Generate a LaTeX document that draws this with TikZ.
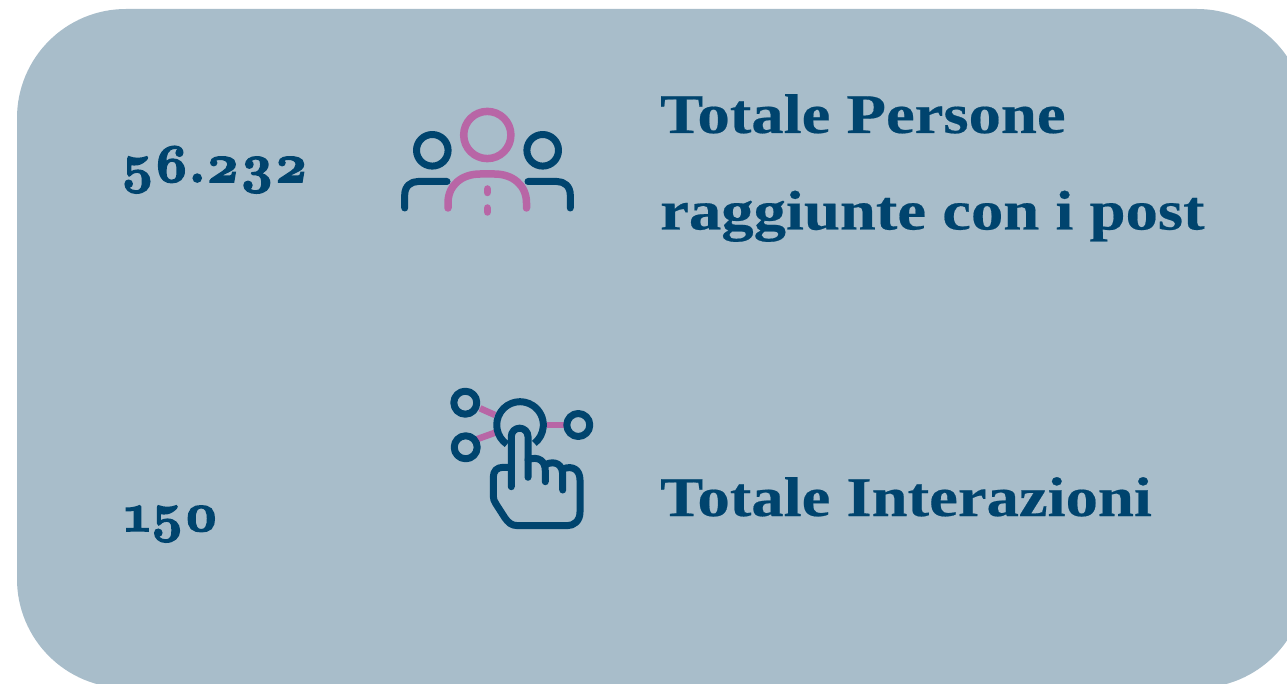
\documentclass[tikz,border=0pt]{standalone}
\usepackage{fontspec}
\newfontfamily\labelfont[FakeStretch=1.155,FakeBold=0.35]{Liberation Serif Bold}
\newfontfamily\numfont[Numbers=OldStyle,FakeBold=3]{Latin Modern Roman}
\definecolor{panel}{HTML}{A8BDCA}
\definecolor{navy}{HTML}{00446E}
\definecolor{orchid}{HTML}{B866A6}
\tikzset{
  txt/.style={anchor=base west,inner sep=0pt,text=navy,font=\labelfont\fontsize{56}{60}\selectfont},
  num/.style={anchor=base west,inner sep=0pt,text=navy,font=\numfont\bfseries\fontsize{54.5}{58}\selectfont},
  navyline/.style={draw=navy,line width=7pt,line cap=round,line join=round},
  pinkline/.style={draw=orchid,line width=7.5pt,line cap=round,line join=round},
  link/.style={draw=orchid,line width=6.5pt,line cap=butt}
}
\begin{document}
\begin{tikzpicture}[x=1pt,y=-1pt]
\useasboundingbox (0,0) rectangle (1287,684);
\fill[white] (0,0) rectangle (1287,684);
\begin{scope}
\clip (0,0) rectangle (1287,684);
\fill[panel,rounded corners=109pt] (17,9) rectangle (1306,688);
\end{scope}
% texts
\node[num] (n1) at (120.5,182) {56.232};
\node[num] (n2) at (124,531) {150};
\node[txt] (t1) at (660,133) {Totale Persone};
\node[txt] (t2) at (660,229.5) {raggiunte con i post};
\node[txt] (t3) at (660,516) {Totale Interazioni};
% people icon
\draw[navyline] (432.3,150.3) circle (15.8);
\draw[navyline] (542.7,150.3) circle (15.8);
\draw[navyline] (404.7,208) -- (404.7,195) .. controls (404.7,186) and (411,181.5) .. (418,181.5) -- (447,181.5);
\draw[navyline] (570.3,208) -- (570.3,195) .. controls (570.3,186) and (564,181.5) .. (557,181.5) -- (528,181.5);
\draw[pinkline] (487.3,135) circle (23.6);
\draw[pinkline] (448,208) -- (448,203) .. controls (448,185) and (462,174) .. (480,174) -- (494.5,174) .. controls (512.5,174) and (526.5,185) .. (526.5,203) -- (526.5,208);
\draw[pinkline] (487.3,189) -- (487.3,192.5);
\draw[pinkline] (487.3,208) -- (487.3,212);
% touch icon
\coordinate (la) at (480,408.3); \coordinate (lb) at (495,415);
\coordinate (lc) at (476.7,439.3); \coordinate (ld) at (495,432.7);
\coordinate (le) at (546.7,425); \coordinate (lf) at (564,425);
\draw[link] (la) -- (lb);
\draw[link] (lc) -- (ld);
\draw[link] (le) -- (lf);
\draw[navyline] (465.3,402.7) circle (11.5);
\draw[navyline] (465.7,447.3) circle (11.5);
\draw[navyline] (578.3,425) circle (11.5);
\draw[navyline,line cap=butt] (507,444.3) arc[start angle=124,end angle=412,radius=23.3];
% hand
\draw[navyline] (511.3,486.7) -- (511.3,436.5) arc[start angle=180,end angle=360,radius=8.35] -- (528,477.3);
\draw[navyline] (528,459.5) .. controls (539,456) and (545.3,461) .. (545.3,471) -- (545.3,481.7);
\draw[navyline] (545.3,464.5) .. controls (556,460) and (562.7,465) .. (562.7,475) -- (562.7,490);
\draw[navyline] (562.7,469) .. controls (573,465) and (580,470) .. (580,480) -- (580,512) .. controls (580,521) and (574,525.7) .. (567,525.7) -- (518,525.7) .. controls (511,525.7) and (508,522) .. (505,518) -- (496,504) .. controls (494,501) and (493.3,499) .. (493.3,496) -- (493.3,477) .. controls (493.3,471) and (497,467.3) .. (503,467.3) -- (511.3,467.3);
\end{tikzpicture}
\end{document}
